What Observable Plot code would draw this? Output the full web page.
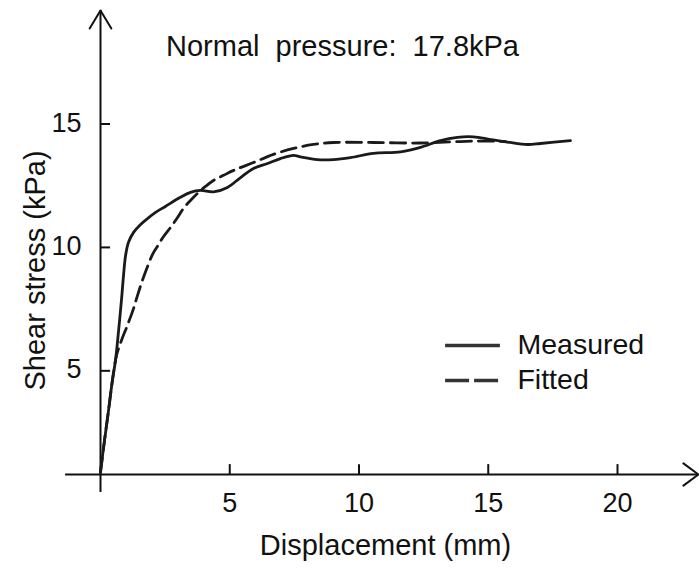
<!DOCTYPE html>
<html>
<head>
<meta charset="utf-8">
<script src="https://cdn.jsdelivr.net/npm/d3@7"></script>
<script src="https://cdn.jsdelivr.net/npm/@observablehq/plot@0.6"></script>
<style>
  html, body { margin: 0; padding: 0; background: #fff; }
  svg { display: block; }
</style>
</head>
<body>
<div id="chart"></div>
<script>
// ---- Data ----
const measuredX = [0, 0.155, 0.31, 0.46, 0.58, 0.70, 0.81, 0.89, 0.97, 1.08, 1.28, 1.55, 1.82, 2.13, 2.51, 3.09, 3.48, 3.87, 4.37, 4.91, 5.42, 5.92, 6.46, 6.96, 7.47, 7.74, 8.39, 9.01, 9.67, 10.56, 11.61, 12.38, 13.15, 13.81, 14.43, 15.09, 15.74, 16.52, 17.02, 18.18];
const measuredY = [0.92, 2.18, 3.39, 4.61, 5.42, 6.63, 7.85, 8.86, 9.67, 10.2, 10.61, 10.93, 11.17, 11.42, 11.66, 12.03, 12.23, 12.31, 12.25, 12.43, 12.83, 13.20, 13.40, 13.60, 13.73, 13.67, 13.56, 13.56, 13.64, 13.81, 13.87, 14.05, 14.33, 14.46, 14.48, 14.37, 14.27, 14.17, 14.21, 14.33];

const fittedX = [0, 0.155, 0.31, 0.46, 0.62, 0.81, 1.04, 1.28, 1.43, 1.62, 1.82, 2.01, 2.20, 2.44, 2.71, 2.98, 3.21, 3.48, 3.75, 4.06, 4.37, 4.76, 5.15, 5.92, 6.69, 7.47, 8.24, 9.01, 10.56, 12.38, 13.93, 14.70, 15.67];
const fittedY = [0.88, 2.18, 3.39, 4.61, 5.62, 6.23, 6.84, 7.53, 8.05, 8.66, 9.23, 9.71, 10.04, 10.44, 10.81, 11.21, 11.58, 11.90, 12.19, 12.47, 12.71, 12.92, 13.12, 13.44, 13.77, 14.01, 14.17, 14.25, 14.25, 14.23, 14.29, 14.31, 14.29];

const xTicks = [5, 10, 15, 20];
const yTicks = [5, 10, 15];
const seriesNames = ["Measured", "Fitted"];
const titleText = "Normal  pressure:  17.8kPa";
const xLabel = "Displacement (mm)";
const yLabel = "Shear stress (kPa)";

// ---- Build tables ----
const measured = measuredX.map((x, i) => ({x, y: measuredY[i]}));
const fitted = fittedX.map((x, i) => ({x, y: fittedY[i]}));

// axis geometry (in data units)
const axisBase = 0.8;       // level where the horizontal axis is drawn
const xAxisFrom = -1.35, xAxisTo = 23.13;
const yAxisFrom = 0.07, yAxisTo = 19.6;

const yArrow = [{x: -0.42, y: 18.87}, {x: 0, y: yAxisTo}, {x: 0.42, y: 18.87}];
const xArrow = [{x: 22.55, y: axisBase + 0.45}, {x: xAxisTo, y: axisBase}, {x: 22.55, y: axisBase - 0.45}];

const legendSolid = [{name: seriesNames[0], y: 6.03}];
const legendDashed = [{name: seriesNames[1], y: 4.61}];
const legX1 = 13.35, legX2 = 15.47, legTextX = 16.13;

const FONT = "'Liberation Sans', Arial, Helvetica, sans-serif";
const INK = "#111";

const plot = Plot.plot({
  width: 699,
  height: 575,
  marginLeft: 100,
  marginRight: 82,
  marginTop: 123.5,
  marginBottom: 101,
  style: {fontFamily: FONT, background: "#fff", overflow: "visible"},
  x: {domain: [0, 20], axis: null},
  y: {domain: [axisBase, 15], axis: null},
  marks: [
    // axes
    Plot.ruleY([axisBase], {x1: xAxisFrom, x2: xAxisTo, stroke: INK, strokeWidth: 2}),
    Plot.ruleX([0], {y1: yAxisFrom, y2: yAxisTo, stroke: INK, strokeWidth: 2}),
    Plot.line(yArrow, {x: "x", y: "y", stroke: INK, strokeWidth: 2}),
    Plot.line(xArrow, {x: "x", y: "y", stroke: INK, strokeWidth: 2}),
    Plot.ruleX(xTicks, {x: d => d, y1: axisBase, y2: axisBase + 0.4, stroke: INK, strokeWidth: 2}),
    Plot.ruleY(yTicks, {y: d => d, x1: 0, x2: 0.39, stroke: INK, strokeWidth: 2}),
    // tick labels
    Plot.text(xTicks, {x: d => d, y: axisBase, text: d => String(d), dy: 29, fontSize: 27, fill: INK, textAnchor: "middle"}),
    Plot.text(yTicks, {x: 0, y: d => d, text: d => String(d), dx: -19, dy: -1, fontSize: 27, fill: INK, textAnchor: "end"}),
    // curves
    Plot.line(measured, {x: "x", y: "y", curve: "catmull-rom", stroke: "#1a1a1a", strokeWidth: 2.8}),
    Plot.line(fitted, {x: "x", y: "y", curve: "catmull-rom", stroke: "#1a1a1a", strokeWidth: 2.8, strokeDasharray: "15,7"}),
    // legend
    Plot.ruleY(legendSolid, {y: "y", x1: legX1, x2: legX2, stroke: "#333", strokeWidth: 3.5}),
    Plot.ruleY(legendDashed, {y: "y", x1: legX1, x2: legX2, stroke: "#333", strokeWidth: 3.5, strokeDasharray: "24,5"}),
    Plot.text(legendSolid.concat(legendDashed), {x: legTextX, y: "y", text: "name", textAnchor: "start", fontSize: 28.5, fill: INK, dy: -1}),
    // title and axis labels
    Plot.text([titleText], {frameAnchor: "top-left", dx: 242, dy: -88.5, text: d => d, textAnchor: "middle", fontSize: 29, fill: INK}),
    Plot.text([xLabel], {frameAnchor: "bottom-left", dx: 285, dy: 80, text: d => d, textAnchor: "middle", fontSize: 29, fill: INK}),
    Plot.text([yLabel], {frameAnchor: "top-left", dx: -76, dy: 146.5, text: d => d, rotate: -90, textAnchor: "middle", fontSize: 29, fill: INK})
  ]
});
document.getElementById("chart").appendChild(plot);
</script>
</body>
</html>
